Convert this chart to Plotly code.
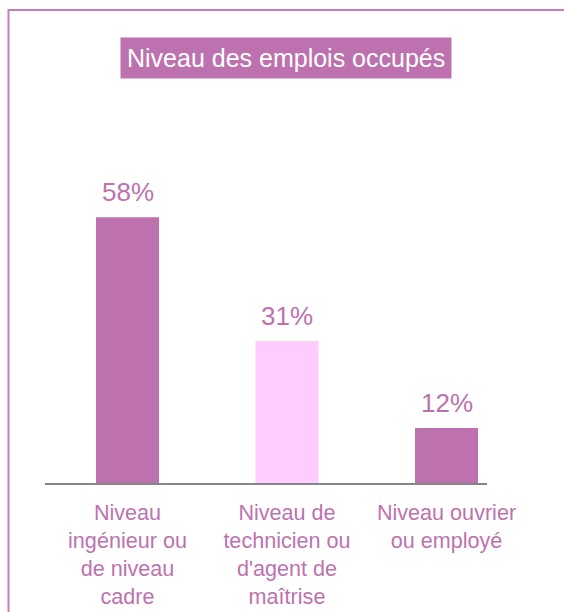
import plotly.graph_objects as go

categories = ["Niveau<br>ingénieur ou<br>de niveau<br>cadre",
              "Niveau de<br>technicien ou<br>d'agent de<br>maîtrise",
              "Niveau ouvrier<br>ou employé"]
values = [58, 31, 12]
labels = ["58%", "31%", "12%"]
bar_colors = ["#BD72AF", "#FFCCFF", "#BD72AF"]
title_text = "Niveau des emplois occupés"

W, H = 564, 612
ml, mr, mt, mb = 45, 77, 100, 129
plot_w = W - ml - mr
plot_h = H - mt - mb
FONT = "Arial, Liberation Sans, sans-serif"
PURPLE = "#BD72AF"

xs = list(range(len(values)))
unit = 159.5
x0 = -(127.5 - ml) / unit
x1 = x0 + plot_w / unit
ymax = plot_h / 4.58

fig = go.Figure()
fig.add_trace(go.Bar(x=xs, y=values, width=63 / unit,
                     marker=dict(color=bar_colors, line=dict(width=0)),
                     hoverinfo="skip"))

for x, v, t in zip(xs, values, labels):
    fig.add_annotation(x=x, y=v, text=t, showarrow=False, yanchor="bottom",
                       yshift=8, font=dict(family=FONT, size=26, color=PURPLE))

fig.add_annotation(xref="paper", yref="paper",
                   x=(286 - ml) / plot_w, y=1 + (mt - 57.5) / plot_h,
                   xanchor="center", yanchor="middle", text=title_text,
                   showarrow=False, bgcolor=PURPLE, borderpad=6,
                   font=dict(family=FONT, size=25, color="white"))

# outer frame
fig.add_shape(type="rect", xref="paper", yref="paper",
              x0=(8.5 - ml) / plot_w, x1=(W + 40 - ml) / plot_w,
              y0=-(H + 40 - mt - plot_h) / plot_h, y1=1 + (mt - 10) / plot_h,
              line=dict(color="#C67CBB", width=2), layer="below")

fig.update_layout(
    width=W, height=H, margin=dict(l=ml, r=mr, t=mt, b=mb, autoexpand=False),
    paper_bgcolor="white", plot_bgcolor="white", showlegend=False,
    xaxis=dict(range=[x0, x1], tickvals=xs, ticktext=categories,
               showgrid=False, zeroline=False, showline=True,
               linecolor="#868686", linewidth=2, ticks="",
               ticklabelstandoff=9, automargin=False,
               tickfont=dict(family=FONT, size=21.6, color=PURPLE),
               fixedrange=True),
    yaxis=dict(range=[0, ymax], visible=False, fixedrange=True,
               automargin=False),
)

fig.write_html("out.html", config=dict(displayModeBar=False),
               post_script="document.body.style.margin='0';")
